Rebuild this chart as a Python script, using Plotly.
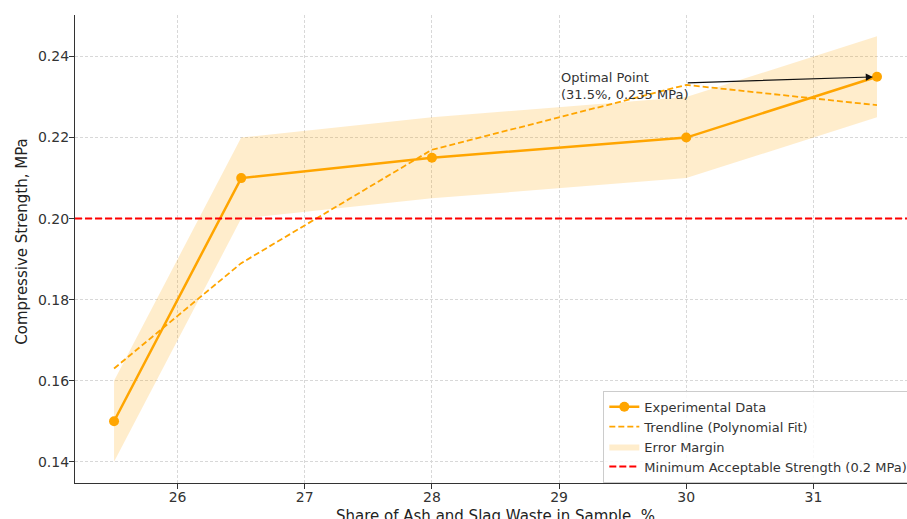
import plotly.graph_objects as go

share = [25.5, 26.5, 28, 30, 31.5]
strength = [0.150, 0.210, 0.215, 0.220, 0.235]
err_low = [0.140, 0.200, 0.205, 0.210, 0.225]
err_high = [0.160, 0.220, 0.225, 0.230, 0.245]
trend = [0.163, 0.189, 0.217, 0.233, 0.228]
min_strength = 0.20
x_ticks = [26, 27, 28, 29, 30, 31]
y_ticks = [0.14, 0.16, 0.18, 0.20, 0.22, 0.24]
opt_x, opt_y = 31.5, 0.235
arrow_from = (30.0, 0.2335)
text_at = (29.0, 0.2300)

ORANGE = "#FFA500"
FONT = "DejaVu Sans"

fig = go.Figure()
fig.add_trace(go.Scatter(x=share, y=err_low, mode="lines", line=dict(width=0),
                         showlegend=False, hoverinfo="skip"))
fig.add_trace(go.Scatter(x=share, y=err_high, mode="lines", line=dict(width=0),
                         fill="tonexty", fillcolor="rgba(255,165,0,0.2)",
                         name="Error Margin", legendrank=3))
fig.add_trace(go.Scatter(x=share, y=trend, mode="lines",
                         line=dict(color=ORANGE, width=1.8, dash="6px,3px"),
                         name="Trendline (Polynomial Fit)", legendrank=2))
fig.add_trace(go.Scatter(x=share, y=strength, mode="lines+markers",
                         line=dict(color=ORANGE, width=2.5),
                         marker=dict(color=ORANGE, size=10),
                         name="Experimental Data", legendrank=1))

fig.add_shape(type="line", xref="paper", x0=0, x1=1, yref="y", y0=min_strength, y1=min_strength,
              line=dict(color="red", width=2, dash="7px,3px"),
              showlegend=True, name="Minimum Acceptable Strength (0.2 MPa)", legendrank=4)

fig.add_annotation(x=opt_x, y=opt_y, ax=arrow_from[0], ay=arrow_from[1],
                   xref="x", yref="y", axref="x", ayref="y", text="",
                   showarrow=True, arrowhead=2, arrowsize=1.2, arrowwidth=1.2,
                   arrowcolor="#111", standoff=4)
fig.add_annotation(x=text_at[0], y=text_at[1], xref="x", yref="y",
                   text="Optimal Point<br>(31.5%, 0.235 MPa)", showarrow=False,
                   xanchor="left", yanchor="bottom", align="left", yshift=-7,
                   font=dict(family=FONT, size=13, color="#333"))

fig.add_annotation(xref="paper", yref="paper", x=0.505, y=-0.071,
                   text="Share of Ash and Slag Waste in Sample, %", showarrow=False,
                   xanchor="center", yanchor="middle",
                   font=dict(family=FONT, size=15, color="#222"))
fig.add_annotation(xref="paper", yref="paper", x=-0.064, y=0.515,
                   text="Compressive Strength, MPa", showarrow=False, textangle=-90,
                   xanchor="center", yanchor="middle",
                   font=dict(family=FONT, size=15, color="#222"))

axis_common = dict(showgrid=True, gridcolor="#d8d8d8", griddash="3px,2px", gridwidth=0.8,
                   showline=True, linecolor="#333", linewidth=1.3,
                   ticks="outside", ticklen=5, tickcolor="#333",
                   tickfont=dict(family=FONT, size=14, color="#333"), zeroline=False)

fig.update_xaxes(range=[25.193, 31.736], tickvals=x_ticks, ticklabelstandoff=-4, **axis_common)
fig.update_yaxes(range=[0.13475, 0.25025], tickvals=y_ticks, tickformat=".2f",
                 ticklabelstandoff=-3, **axis_common)

fig.update_layout(
    width=907, height=519,
    margin=dict(l=75, r=0, t=15, b=36, autoexpand=False),
    plot_bgcolor="white", paper_bgcolor="white",
    font=dict(family=FONT, color="#333"),
    legend=dict(x=0.635, y=0.197, xanchor="left", yanchor="top", traceorder="normal",
                bgcolor="rgba(255,255,255,0.85)", bordercolor="#ccc", borderwidth=1,
                font=dict(family=FONT, size=13, color="#333"),
                tracegroupgap=0, itemwidth=30),
)

fig.write_html("out.html", config={"displayModeBar": False},
               post_script="document.body.style.margin='0';document.body.style.overflow='hidden';")
